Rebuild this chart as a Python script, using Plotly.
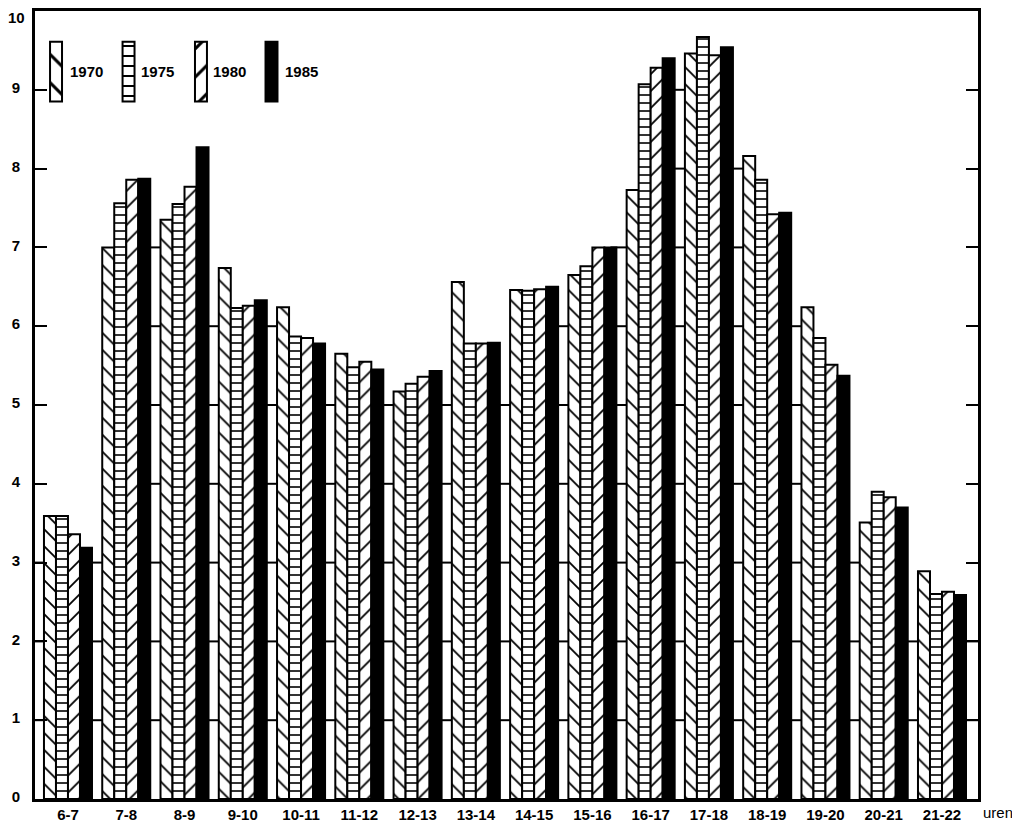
import plotly.graph_objects as go

# ---------------- data ----------------
hours = ["6-7", "7-8", "8-9", "9-10", "10-11", "11-12", "12-13", "13-14",
         "14-15", "15-16", "16-17", "17-18", "18-19", "19-20", "20-21", "21-22"]
years = ["1970", "1975", "1980", "1985"]
v1970 = [3.59, 7.00, 7.35, 6.74, 6.24, 5.65, 5.17, 6.56, 6.46, 6.65, 7.73, 9.46, 8.16, 6.24, 3.51, 2.89]
v1975 = [3.59, 7.56, 7.55, 6.23, 5.87, 5.48, 5.27, 5.78, 6.45, 6.76, 9.07, 9.67, 7.86, 5.85, 3.90, 2.60]
v1980 = [3.36, 7.86, 7.77, 6.26, 5.85, 5.55, 5.36, 5.78, 6.47, 7.00, 9.28, 9.44, 7.42, 5.51, 3.83, 2.63]
v1985 = [3.19, 7.87, 8.27, 6.33, 5.78, 5.45, 5.43, 5.79, 6.50, 7.00, 9.40, 9.54, 7.44, 5.37, 3.70, 2.59]
y_ticks = [0, 1, 2, 3, 4, 5, 6, 7, 8, 9, 10]
unit_label = "uren"
series = [v1970, v1975, v1980, v1985]

# ---------------- style ----------------
FONT = "Liberation Sans"
patterns = [
    dict(shape="\\", size=12, solidity=0.15, fgcolor="black", bgcolor="white", fillmode="replace"),
    dict(shape="-", size=8, solidity=0.2, fgcolor="black", bgcolor="white", fillmode="replace"),
    dict(shape="/", size=12, solidity=0.15, fgcolor="black", bgcolor="white", fillmode="replace"),
    None,
]
fills = ["white", "white", "white", "black"]
BARGAP = 0.176
n_series = len(series)
bar_w = (1 - BARGAP) / n_series

fig = go.Figure()
xs = list(range(len(hours)))
for name, vals, pat, fc in zip(years, series, patterns, fills):
    marker = dict(color=fc, line=dict(color="black", width=2))
    if pat is not None:
        marker["pattern"] = pat
    fig.add_trace(go.Bar(x=xs, y=vals, name=name, marker=marker, showlegend=False))

# ---------------- gridline segments in the gaps between groups ----------------
XMIN, XMAX = -0.566, 15.618
shapes = []
first_vals = series[0]
last_vals = series[-1]
edge = 1.5 * bar_w
for gap in range(-1, len(hours)):
    if gap == -1:
        x0, hl = XMIN, 99
    else:
        x0, hl = gap + edge, last_vals[gap]
    if gap + 1 >= len(hours):
        x1, hr = XMAX, 99
    else:
        x1, hr = gap + 1 - edge, first_vals[gap + 1]
    lim = min(hl, hr)
    for k in y_ticks[1:-1]:
        if k <= lim + 0.01:
            shapes.append(dict(type="line", xref="x", yref="y", x0=x0, x1=x1, y0=k, y1=k,
                               line=dict(color="black", width=2), layer="below"))

# ---------------- custom legend (tall pattern boxes) ----------------
leg_x = [0.0223, 0.0992, 0.176, 0.2508]
leg_w = 0.0127
leg_base = 0.885
leg_h = 0.076
leg_text_x = [0.035, 0.110, 0.1866, 0.263]
annotations = []
for i, (name, pat, fc) in enumerate(zip(years, patterns, fills)):
    marker = dict(color=fc, line=dict(color="black", width=2))
    if pat is not None:
        p = dict(pat)
        p["size"] = 20 if p["shape"] != "-" else 10
        marker["pattern"] = p
    fig.add_trace(go.Bar(x=[leg_x[i]], y=[leg_h], base=[leg_base], width=[leg_w],
                         offset=-leg_w / 2, marker=marker, xaxis="x2", yaxis="y2",
                         showlegend=False, hoverinfo="skip"))
    annotations.append(dict(x=leg_text_x[i], y=0.9227, xref="paper", yref="paper",
                            text=name, showarrow=False, xanchor="left", yanchor="middle",
                            font=dict(family=FONT, size=15, color="black", weight="bold")))

# top tick label, placed slightly below the frame as in the reference
annotations.append(dict(x=0, y=1, xref="paper", yref="paper", text=str(y_ticks[-1]),
                        showarrow=False, xanchor="right", yanchor="middle",
                        xshift=-8, yshift=-6,
                        font=dict(family=FONT, size=15, color="black", weight="bold")))
annotations.append(dict(x=1.003, y=0, xref="paper", yref="paper", text=unit_label,
                        showarrow=False, xanchor="left", yanchor="top", yshift=-3,
                        font=dict(family=FONT, size=15, color="black")))

fig.update_layout(
    width=1004, height=820,
    margin=dict(l=27, r=34, t=3, b=29, autoexpand=False),
    paper_bgcolor="white", plot_bgcolor="white",
    barmode="group", bargap=BARGAP, bargroupgap=0,
    shapes=shapes, annotations=annotations,
    font=dict(family=FONT, color="black"),
    xaxis=dict(range=[XMIN, XMAX], tickmode="array", tickvals=xs, ticktext=hours,
               showgrid=False, zeroline=False, showline=True, linecolor="black",
               linewidth=3, mirror=True, ticks="", ticklabelstandoff=0, automargin=False,
               tickfont=dict(family=FONT, size=15, color="black", weight="bold")),
    yaxis=dict(range=[0, 10], tickmode="array", tickvals=y_ticks,
               ticktext=[str(t) for t in y_ticks[:-1]] + [""],
               showgrid=False, zeroline=False, showline=True, linecolor="black",
               linewidth=3, mirror="ticks", ticks="inside", ticklen=12, tickwidth=2,
               tickcolor="black", ticklabelstandoff=9, automargin=False, ticklabelshift=-2,
               tickfont=dict(family=FONT, size=15, color="black", weight="bold")),
    xaxis2=dict(overlaying="x", range=[0, 1], visible=False, fixedrange=True),
    yaxis2=dict(overlaying="y", range=[0, 1], visible=False, fixedrange=True),
)

fig.write_html("out.html")
